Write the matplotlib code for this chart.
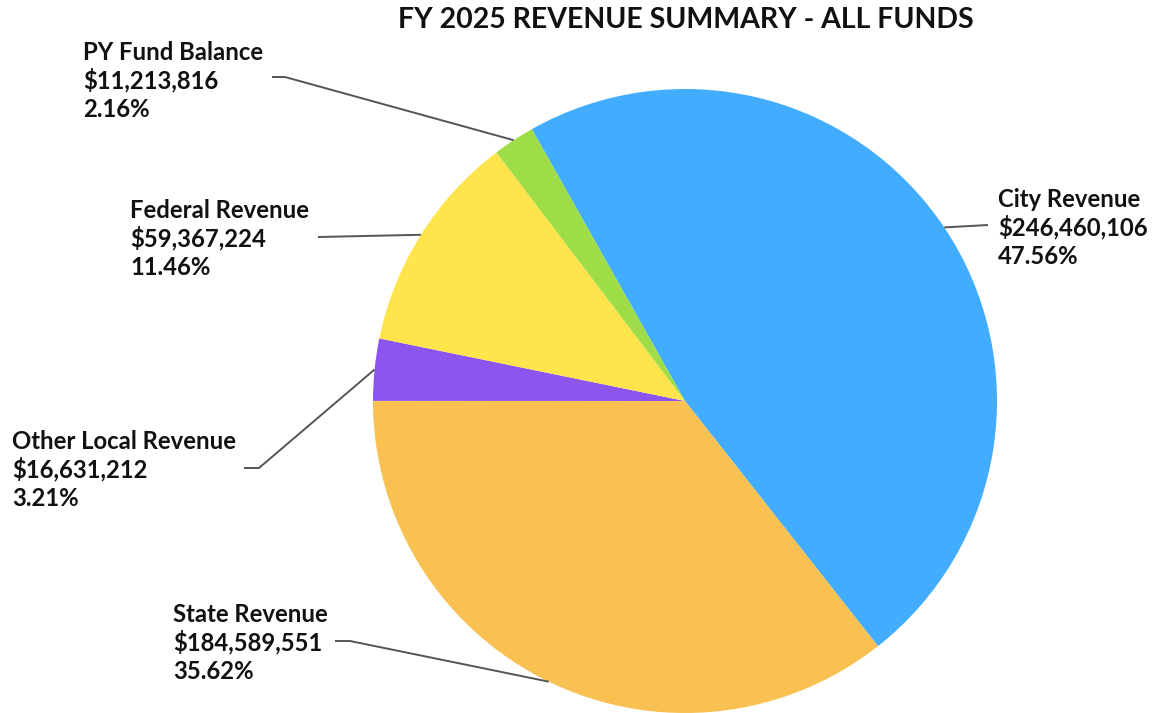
import numpy as np
import matplotlib
matplotlib.use("Agg")
import matplotlib.pyplot as plt

# Revenue sources, FY 2025, all funds (clockwise order from the top)
categories = ["City Revenue", "State Revenue", "Other Local Revenue",
              "Federal Revenue", "PY Fund Balance"]
amounts = [246460106, 184589551, 16631212, 59367224, 11213816]
percent_labels = ["47.56%", "35.62%", "3.21%", "11.46%", "2.16%"]
colors = ["#42ADFE", "#F9C152", "#8C56EE", "#FFE44C", "#9EDD47"]

W, H = 1152, 713
fig = plt.figure(figsize=(W / 100, H / 100), dpi=100)
ax = fig.add_axes([0, 0, 1, 1])

cx, cy, R = 685, H - 401, 312
start = 119.4
wedges, _ = ax.pie(amounts, colors=colors, startangle=start, counterclock=False,
                   center=(cx, cy), radius=R, frame=True,
                   wedgeprops=dict(linewidth=0))
ax.set_xlim(0, W)
ax.set_ylim(0, H)
ax.set_aspect("equal")
ax.axis("off")

font = "Lato"
fs = 17.2

# label block: left x, first-line baseline y (pixels from top), leader elbow
label_layout = {
    "City Revenue": dict(x=998, y=207, elbow=(988, 225)),
    "State Revenue": dict(x=173, y=622, elbow=(350, 641), start=(335, 641)),
    "Other Local Revenue": dict(x=12, y=449, elbow=(259, 468), start=(244, 468)),
    "Federal Revenue": dict(x=130, y=218, elbow=(318, 237)),
    "PY Fund Balance": dict(x=83, y=60, elbow=(285, 77), start=(272, 77)),
}

pitch = 28.7
for w, name, amt, pct in zip(wedges, categories, amounts, percent_labels):
    mid = np.deg2rad((w.theta1 + w.theta2) / 2)
    ex, ey = cx + R * np.cos(mid), cy + R * np.sin(mid)
    lay = label_layout[name]
    lines = [name, f"${amt:,}", pct]
    for i, t in enumerate(lines):
        ax.text(lay["x"], H - (lay["y"] + i * pitch), t, fontsize=fs,
                fontfamily=font, fontweight="bold", color="#111111",
                ha="left", va="baseline")
    elx, ely = lay["elbow"]
    if "start" in lay:
        sx, sy = lay["start"]
        xs = [sx, elx, ex]
        ys = [H - sy, H - ely, ey]
    else:
        xs = [elx, ex]
        ys = [H - ely, ey]
    ax.plot(xs, ys, color="#555555", linewidth=1.4, solid_capstyle="butt")

ax.text(686, H - 28, "FY 2025 REVENUE SUMMARY - ALL FUNDS", fontsize=20.5,
        fontfamily=font, fontweight="bold", color="#111111",
        ha="center", va="baseline")

fig.savefig("out.png", dpi=100, facecolor="white")
